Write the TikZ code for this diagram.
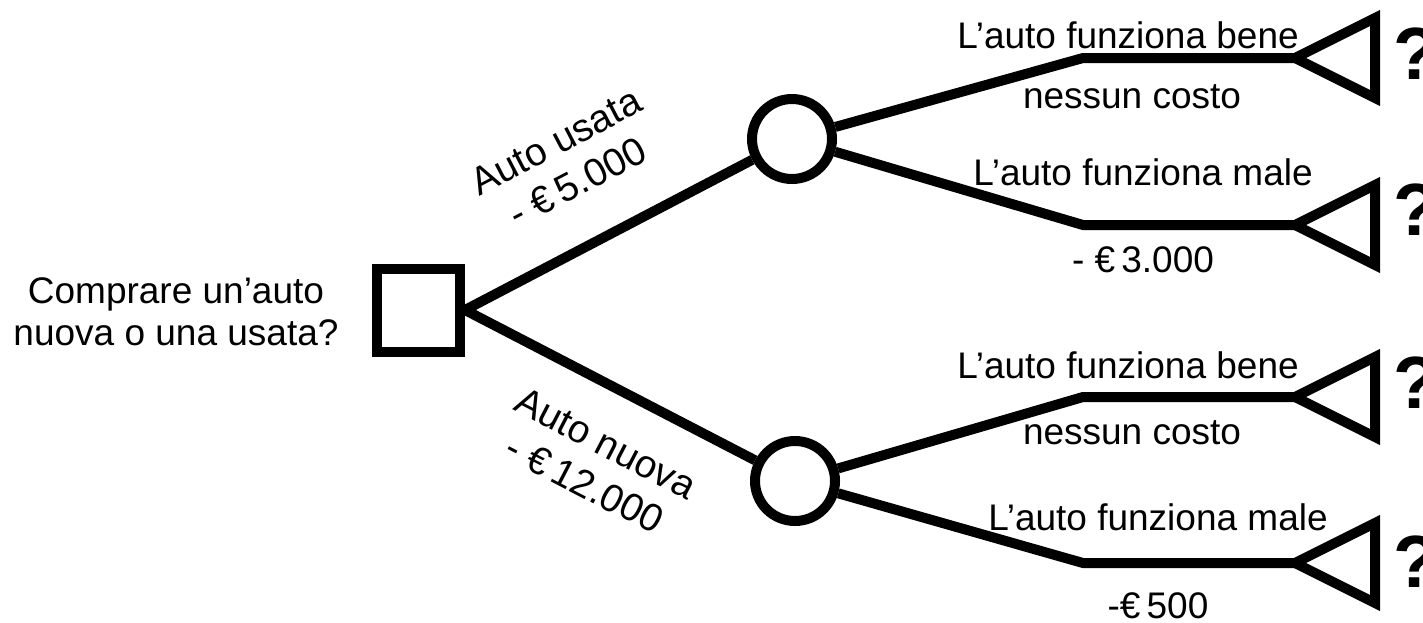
\documentclass[tikz,border=0pt]{standalone}
\usepackage{fontspec}
\setmainfont{Liberation Sans}
\usetikzlibrary{positioning}

\tikzset{
  decision/.style={draw, rectangle, minimum size=41.5pt, inner sep=0pt},
  chance/.style={draw, circle, minimum size=40pt, inner sep=0pt},
  choice/.style={sloped, align=center, font=\fontsize{19.5}{23}\selectfont},
  outcome/.style={inner sep=1pt},
  leaf/.style={font=\fontsize{37}{40}\selectfont\bfseries, anchor=west, inner sep=0pt},
  payoff/.pic={\draw (0,0) -- (80,-40) -- (80,40) -- cycle;}
}

\begin{document}
\begin{tikzpicture}[x=0.5pt, y=-0.5pt, line width=5pt,
    font=\fontsize{18.5}{21}\selectfont]
\useasboundingbox (0,0) rectangle (1423,622);

\node[decision] (buy) at (418.5,310) {};
\node[chance] (used) at (792,139) {};
\node[chance] (new) at (795,481) {};
\node[align=center] (question) at (176,312)
    {Comprare un’auto\\nuova o una usata?};

% bends and leaf tips
\coordinate (b1) at (1083,58);  \coordinate (t1) at (1295,58);
\coordinate (b2) at (1083,225); \coordinate (t2) at (1295,225);
\coordinate (b3) at (1083,397); \coordinate (t3) at (1295,397);
\coordinate (b4) at (1083,563); \coordinate (t4) at (1295,563);
\foreach \t in {t1,t2,t3,t4}
    \pic at (\t) {payoff};

\draw
    (buy.east) edge node[choice, pos=0.49, above=18pt]
        {Auto usata\\- €\,5.000} (used)
    (buy.east) edge node[choice, pos=0.57, below=14pt]
        {Auto nuova\\- €\,12.000} (new);
\draw (used) -- (b1) -- (t1);
\draw (used) -- (b2) -- (t2);
\draw (new) -- (b3) -- (t3);
\draw (new) -- (b4) -- (t4);

\node[outcome] (ok1) at (1128,35) {L’auto funziona bene};
\node[outcome] (cost1) at (1132,97) {nessun costo};
\node[outcome] (bad1) at (1143,172) {L’auto funziona male};
\node[outcome] (cost2) at (1143,260) {- €\,3.000};
\node[outcome] (ok2) at (1128,365) {L’auto funziona bene};
\node[outcome] (cost3) at (1132,433) {nessun costo};
\node[outcome] (bad2) at (1158,517) {L’auto funziona male};
\node[outcome] (cost4) at (1158,606) {-€\,500};

\node[leaf] (q1) at (1388,54) {?};
\node[leaf] (q2) at (1388,210) {?};
\node[leaf] (q3) at (1388,383) {?};
\node[leaf] (q4) at (1388,562) {?};
\end{tikzpicture}
\end{document}
